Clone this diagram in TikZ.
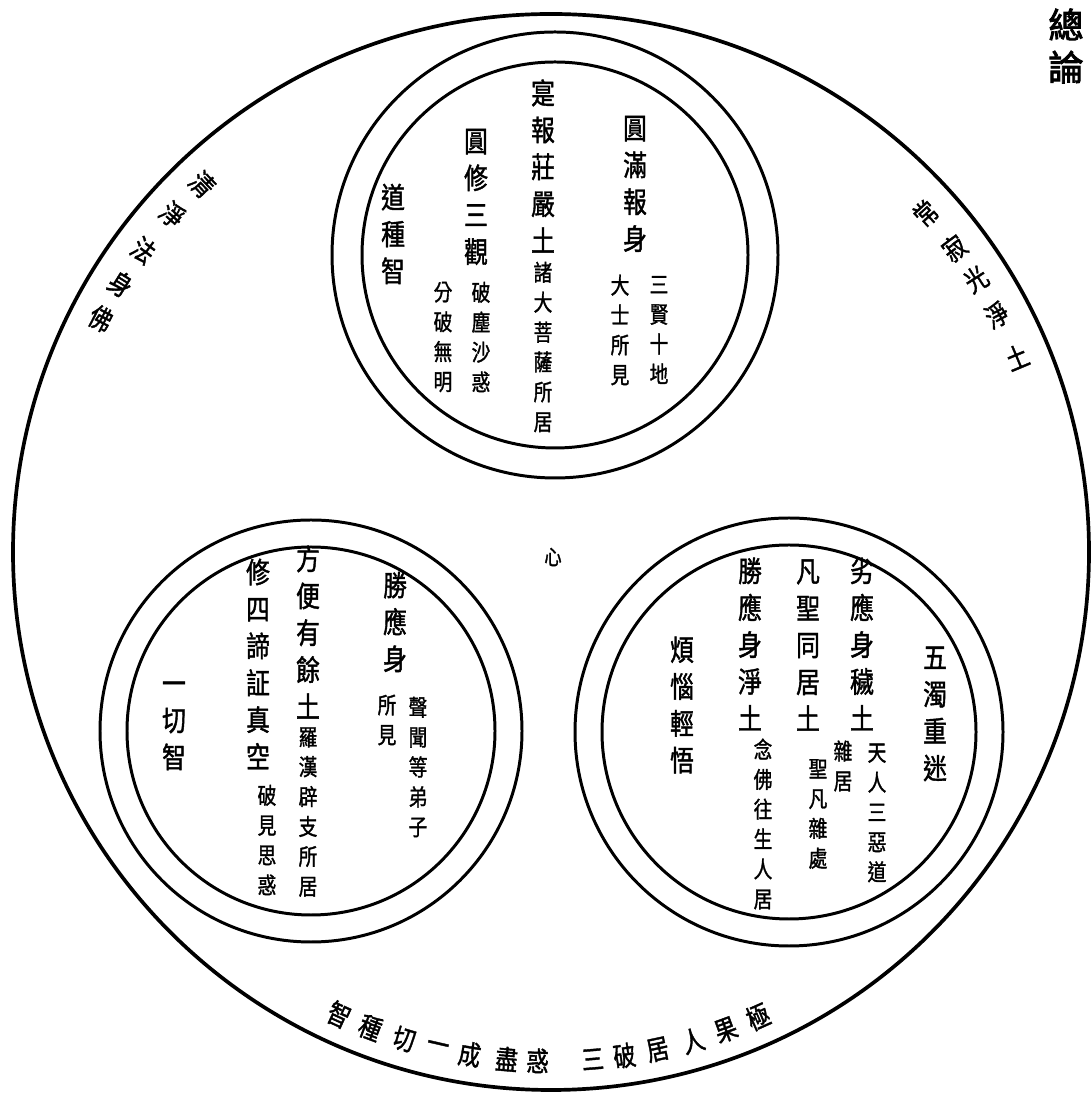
\documentclass[tikz,border=0pt]{standalone}
\usepackage{fontspec}
\newfontfamily\cjk[FakeStretch=0.82, FakeBold=1.4]{Noto Sans CJK TC}
\newfontfamily\cjkhead[FakeBold=2.5]{Noto Sans CJK TC}
\usetikzlibrary{calc}

\tikzset{
  outerring/.style={line width=2.1pt},
  ring/.style={line width=1.7pt},
  bigcol/.style={font=\cjk\fontsize{16.5pt}{21pt}\selectfont, align=center, inner sep=0pt},
  smallcol/.style={font=\cjk\fontsize{13pt}{17pt}\selectfont, align=center, inner sep=0pt},
  rimchar/.style={font=\cjk\fontsize{15.5pt}{15.5pt}\selectfont, inner sep=0pt},
}

\begin{document}
\begin{tikzpicture}[x=0.02cm, y=0.02cm]
\useasboundingbox (0,0) rectangle (1091,1098);

% centres of the circles
\coordinate (O) at (551,546);
\coordinate (T) at (555,843);
\coordinate (L) at (311,367);
\coordinate (R) at (789,366);

% Draw the circles
\draw[outerring] (O) circle (538);
\draw[ring] (T) circle (223);
\draw[ring] (T) circle (193);
\draw[ring] (L) circle (211);
\draw[ring] (L) circle (184);
\draw[ring] (R) circle (214);
\draw[ring] (R) circle (187);

% texts round the rim
\foreach \c/\a [count=\i] in {清/133.5, 淨/138.3, 法/143.5, 身/148.1, 佛/152.6}
  \node[rimchar, rotate=\a-180] (qing\i) at ($(O)+(\a:507)$) {\c};
\foreach \c/\a [count=\i] in {常/42.1, 寂/37.0, 光/32.7, 淨/28.0, 土/22.7}
  \node[rimchar, rotate=\a] (chang\i) at ($(O)+(\a:505)$) {\c};
\foreach \c/\a [count=\i] in {智/-114.6, 種/-110.8, 切/-106.8, 一/-102.9, 成/-99.2,
    盡/-95.0, 惑/-91.5, 三/-85.3, 破/-81.7, 居/-77.9, 人/-73.8, 果/-69.9, 極/-66.0}
  \node[rimchar, rotate=\a+90] (ji\i) at ($(O)+(\a:509)$) {\c};

% top circle
\node[bigcol]   (T-bao)    at (635,914) {圓\\滿\\報\\身};
\node[smallcol] (T-xian)   at (659,768) {三\\賢\\十\\地};
\node[smallcol] (T-dashi)  at (620,768) {大\\士\\所\\見};
\node[bigcol]   (T-zhuang) at (543,932) {寔\\報\\莊\\嚴\\土};
\node[smallcol] (T-zhu)    at (543,751) {諸\\大\\菩\\薩\\所\\居};
\node[bigcol]   (T-guan)   at (476,901) {圓\\修\\三\\觀};
\node[smallcol] (T-chen)   at (481,761) {破\\塵\\沙\\惑};
\node[smallcol] (T-wu)     at (443,761) {分\\破\\無\\明};
\node[bigcol]   (T-dao)    at (393,864) {道\\種\\智};

% bottom left circle
\node[bigcol]   (L-sheng)  at (395,476) {勝\\應\\身};
\node[smallcol] (L-suo)    at (387,378) {所\\見};
\node[smallcol] (L-wen)    at (418,331) {聲\\聞\\等\\弟\\子};
\node[bigcol]   (L-fang)   at (308,466) {方\\便\\有\\餘\\土};
\node[smallcol] (L-luo)    at (308,286) {羅\\漢\\辟\\支\\所\\居};
\node[bigcol]   (L-xiu)    at (258,434) {修\\四\\諦\\証\\真\\空};
\node[smallcol] (L-po)     at (267,258) {破\\見\\思\\惑};
\node[bigcol]   (L-yi)     at (174,372) {一\\切\\智};

% bottom right circle
\node[bigcol]   (R-lie)    at (862,454) {劣\\應\\身\\穢\\土};
\node[smallcol] (R-tian)   at (877,285) {天\\人\\三\\惡\\道};
\node[smallcol] (R-za)     at (843,332) {雜\\居};
\node[bigcol]   (R-fan)    at (808,453) {凡\\聖\\同\\居\\土};
\node[smallcol] (R-shengfan) at (818,284) {聖\\凡\\雜\\處};
\node[bigcol]   (R-sheng)  at (750,454) {勝\\應\\身\\淨\\土};
\node[smallcol] (R-nian)   at (763,274) {念\\佛\\往\\生\\人\\居};
\node[bigcol]   (R-fannao) at (682,393) {煩\\惱\\輕\\悟};
\node[bigcol]   (R-wuzhuo) at (935,384) {五\\濁\\重\\迷};

% centre and corner
\node[font=\cjk\fontsize{12pt}{12pt}\selectfont, inner sep=0pt] (xin) at (553,541) {心};
\node[font=\cjkhead\fontsize{20pt}{24pt}\selectfont, align=center, inner sep=0pt] (zonglun) at (1066,1052) {總\\論};

\end{tikzpicture}
\end{document}
